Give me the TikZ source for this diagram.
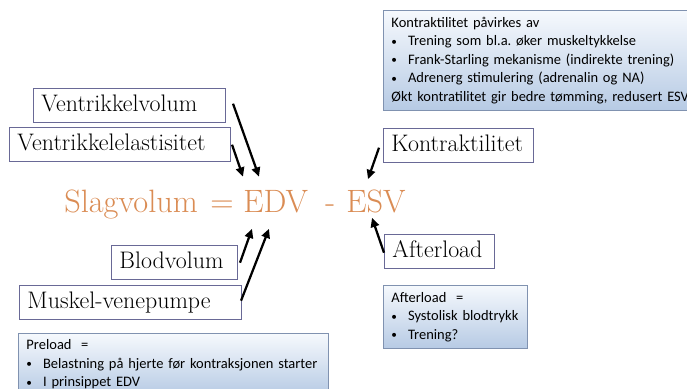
\documentclass[tikz,border=0pt]{standalone}
\usepackage{fontspec}
\newfontfamily\notefont{Carlito}
\usetikzlibrary{arrows.meta, positioning, calc}
\definecolor{termline}{RGB}{105,105,150}
\definecolor{noteline}{RGB}{128,146,176}
\definecolor{notetop}{RGB}{246,249,253}
\definecolor{notebot}{RGB}{182,202,228}
\definecolor{slagorange}{RGB}{218,140,84}
\newcommand{\bul}{\makebox[11.8pt][l]{\raisebox{0.3pt}{\fontsize{8}{8}\selectfont\textbullet}}}
\frenchspacing

\begin{document}
\begin{tikzpicture}[
  x=0.025cm, y=-0.025cm,
  every node/.style={inner sep=0pt},
  term/.style={
    draw=termline, line width=0.7pt, fill=white, anchor=north west,
    align=left, inner xsep=0.2cm,
    minimum height=0.86cm, text height=11.8pt, text depth=3.6pt,
    font=\fontsize{17}{20}\selectfont
  },
  note/.style={
    draw=noteline, line width=0.7pt, top color=notetop, bottom color=notebot,
    anchor=north west, align=left, inner xsep=0.2cm,
    font=\notefont\fontsize{10.3}{13.2}\selectfont
  },
  eq/.style={text=slagorange, anchor=base west, font=\fontsize{23}{27}\selectfont},
  arrow/.style={-{Triangle[length=2.3mm, width=2.1mm]}, line width=1.6pt}
]
  \useasboundingbox (0,0) rectangle (687,389);

  % Forklaringsbokser
  \node[note, text width=7.7cm, minimum height=2.5cm] (kontrnote) at (383,10) {
    Kontraktilitet påvirkes av\\
    \bul Trening som bl.a. øker muskeltykkelse\\
    \bul Frank-Starling mekanisme (indirekte trening)\\
    \bul Adrenerg stimulering (adrenalin og NA)\\
    Økt kontratilitet gir bedre tømming, redusert ESV};
  \node[note, text width=3.2cm, minimum height=1.575cm] (afternote) at (383,285) {
    Afterload\ \ =\\
    \bul Systolisk blodtrykk\\
    \bul Trening?};
  \node[note, text width=7.35cm, minimum height=1.55cm] (prenote) at (18,333) {
    Preload\ \ =\\
    \bul Belastning på hjerte før kontraksjonen starter\\
    \bul I prinsippet EDV};

  % Faktorer
  \node[term, text width=4.4cm] (vvol) at (33,88) {Ventrikkelvolum};
  \node[term, text width=5.125cm] (velast) at (9,127) {Ventrikkelelastisitet};
  \node[term, text width=3.35cm] (kontr) at (383,128) {Kontraktilitet};
  \node[term, text width=2.35cm] (after) at (384,234) {Afterload};
  \node[term, text width=2.75cm] (blod) at (111,245) {Blodvolum};
  \node[term, text width=5.15cm] (muskel) at (19,285) {Muskel-venepumpe};

  % Likningen
  \node[eq] (slag) at (64,212) {Slagvolum};
  \node[eq] (eqsign) at (210,212) {=};
  \node[eq] (edv) at (243,212) {EDV};
  \node[eq] (minus) at (325,212) {-};
  \node[eq] (esv) at (346,212) {ESV};

  % Piler
  \draw[arrow] ($(vvol.east)+(7,-2)$) -- ($(edv.north west)+(16,-13)$);
  \draw[arrow] ($(velast.east)+(1,0)$) -- ($(edv.north west)+(0,-13)$);
  \draw[arrow] ($(kontr.west)+(-4,2)$) -- ($(esv.north west)+(22,-10)$);
  \draw[arrow] ($(after.west)+(0,1)$) -- ($(esv.south west)+(26,5)$);
  \draw[arrow] ($(blod.east)+(2,0)$) -- ($(edv.south west)+(9,16)$);
  \draw[arrow] ($(muskel.east)+(-1,-2)$) -- ($(edv.south west)+(26,16)$);

\end{tikzpicture}
\end{document}
